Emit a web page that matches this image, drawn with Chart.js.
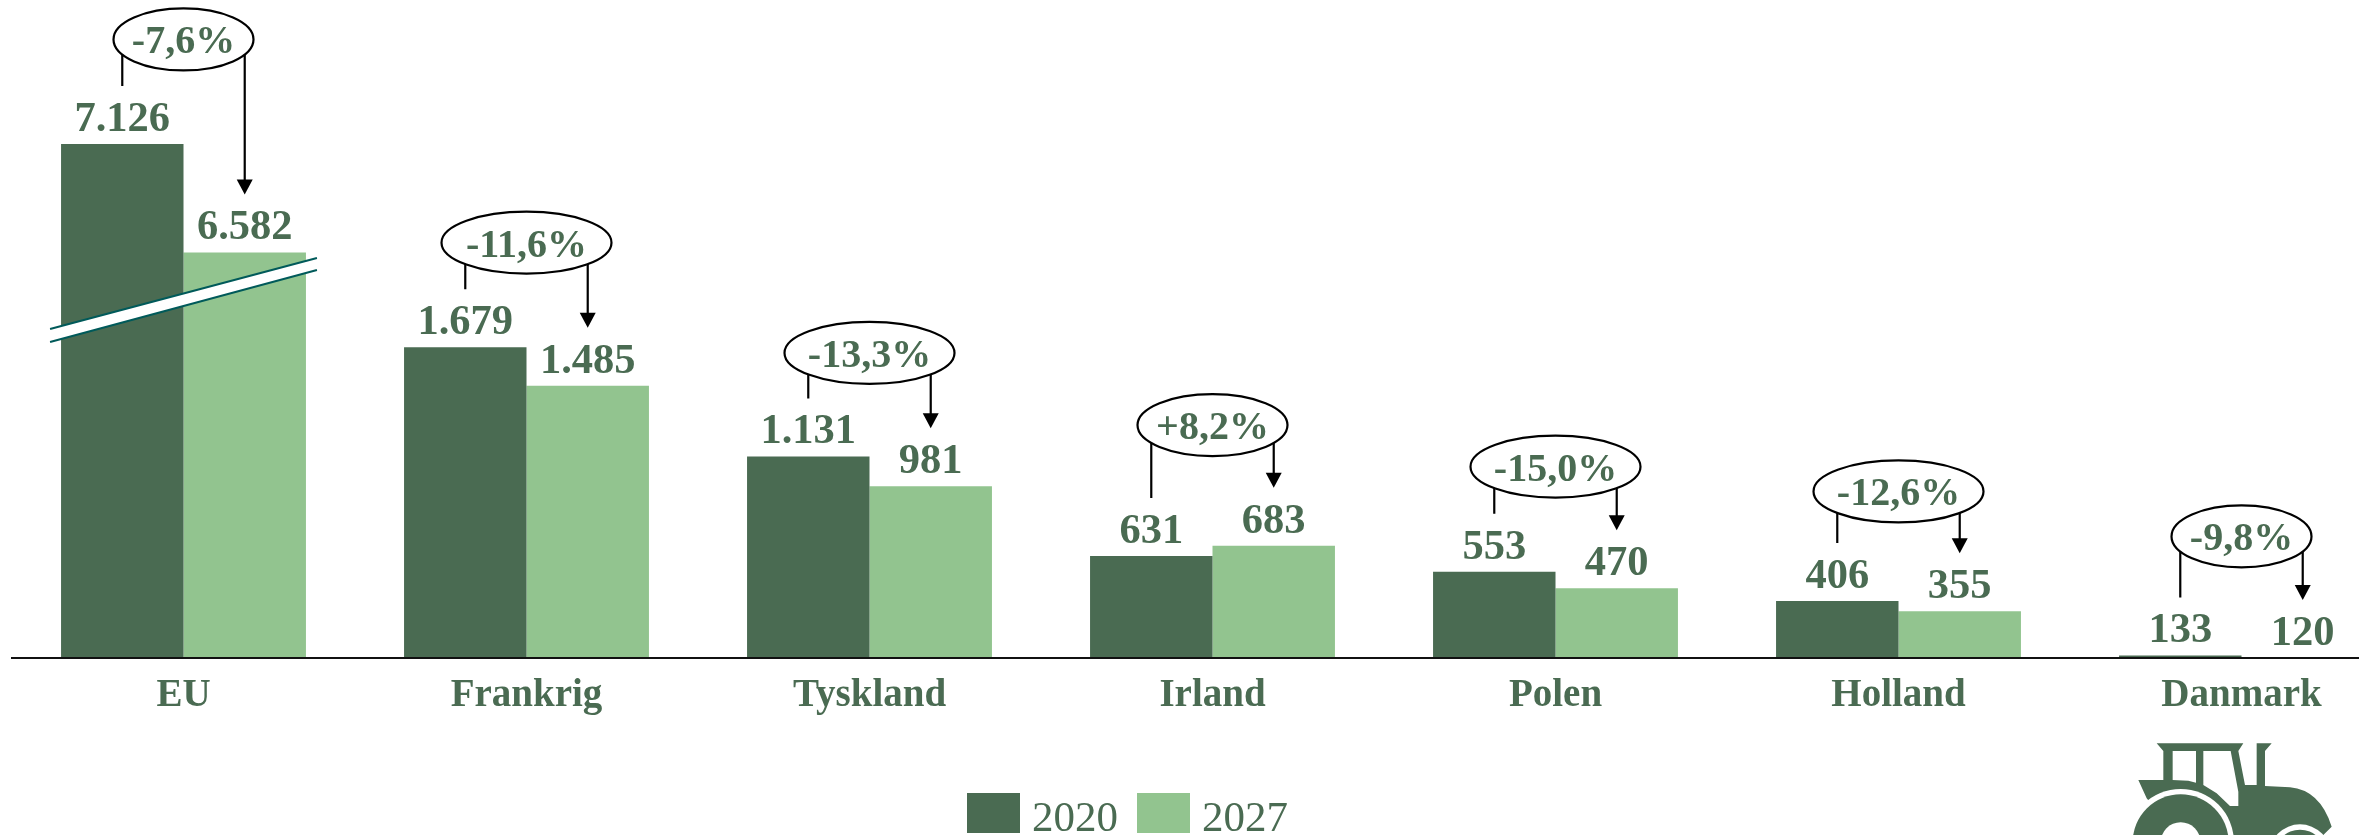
<!DOCTYPE html>
<html lang="da">
<head>
<meta charset="utf-8">
<title>Chart</title>
<script src="https://cdn.jsdelivr.net/npm/chart.js@4/dist/chart.umd.js"></script>
<style>
html,body{margin:0;padding:0;background:#fff;overflow:hidden;width:2359px;height:835px}
#wrap{position:relative;width:2359px;height:835px;overflow:hidden}
canvas{display:block}
</style>
</head>
<body>
<div id="wrap"><canvas id="c" width="2416" height="835"></canvas></div>
<script>
const categories = ['EU','Frankrig','Tyskland','Irland','Polen','Holland','Danmark'];
const values2020 = [7126,1679,1131,631,553,406,133];
const values2027 = [6582,1485,981,683,470,355,120];
const changes = ['-7,6%','-11,6%','-13,3%','+8,2%','-15,0%','-12,6%','-9,8%'];
const seriesNames = ['2020','2027'];

// broken axis: values above breakAt have breakCut units removed
const breakAt = 3000, breakCut = 4428;
const axisMin = 120, axisMax = 3420;

// callout styling
const calloutLift = [104.5,104.5,103.5,131,105,109.5,119];
const calloutRx = [70,85,85,75,85,85,70];
const calloutRy = 31;

const DARK='#4a6b52', LIGHT='#92c48f', TEXT='#4a6b52', FONT='"Liberation Serif"';

class BrokenLinearScale extends Chart.LinearScale {
  getPixelForValue(v){ return super.getPixelForValue(v > breakAt ? v - breakCut : v); }
}
BrokenLinearScale.id = 'brokenLinear';
BrokenLinearScale.defaults = Chart.LinearScale.defaults;
Chart.register(BrokenLinearScale);

const fmt = v => String(v).replace(/\B(?=(\d{3})+$)/g,'.');

function drawTractor(ctx){
  ctx.save();
  ctx.translate(2110,735); ctx.scale(1/3,1/3);
  ctx.fillStyle=DARK;
  ctx.beginPath();
  ctx.moveTo(85,135);ctx.lineTo(160,135);ctx.lineTo(160,48);ctx.lineTo(140,25);ctx.lineTo(400,25);
  ctx.lineTo(385,48);ctx.lineTo(405,150);ctx.lineTo(440,150);ctx.lineTo(440,25);ctx.lineTo(485,25);
  ctx.lineTo(465,48);ctx.lineTo(465,153);ctx.lineTo(540,157);
  ctx.quadraticCurveTo(630,165,665,275);ctx.lineTo(640,300);ctx.lineTo(200,300);ctx.lineTo(110,190);
  ctx.closePath();ctx.fill();
  ctx.fillStyle='#fff';
  ctx.beginPath();
  ctx.moveTo(188,48);ctx.lineTo(258,48);ctx.lineTo(258,143);ctx.lineTo(235,137);ctx.lineTo(188,135);ctx.closePath();
  ctx.moveTo(280,48);ctx.lineTo(362,48);ctx.lineTo(385,170);ctx.lineTo(385,213);ctx.lineTo(360,213);ctx.lineTo(320,175);ctx.lineTo(280,150);ctx.closePath();
  ctx.fill();
  const disc=(x,y,r,c)=>{ctx.fillStyle=c;ctx.beginPath();ctx.arc(x,y,r,0,Math.PI*2);ctx.fill();};
  disc(212,322,160,'#fff');disc(212,322,144,DARK);disc(212,322,60,'#fff');
  disc(570,360,92,'#fff');disc(570,360,76,DARK);disc(570,360,30,'#fff');
  ctx.restore();
}

const annotations = {
  id:'annotations',
  afterDatasetsDraw(chart){
    const ctx=chart.ctx, m0=chart.getDatasetMeta(0).data, m1=chart.getDatasetMeta(1).data;
    const xs=chart.scales.x;
    ctx.save();
    // axis break on the EU bars
    const a=m0[0], b=m1[0];
    const bx0=a.x-a.width/2-11, bx1=b.x+b.width/2+11;
    const yU0=329,yU1=258,yL0=342,yL1=270;
    ctx.fillStyle='#fff';
    ctx.beginPath();ctx.moveTo(bx0,yU0);ctx.lineTo(bx1,yU1);ctx.lineTo(bx1,yL1);ctx.lineTo(bx0,yL0);ctx.closePath();ctx.fill();
    ctx.strokeStyle='#005a5a';ctx.lineWidth=2;
    ctx.beginPath();ctx.moveTo(bx0,yU0);ctx.lineTo(bx1,yU1);ctx.moveTo(bx0,yL0);ctx.lineTo(bx1,yL1);ctx.stroke();

    // value labels
    ctx.textAlign='center';ctx.textBaseline='alphabetic';ctx.fillStyle=TEXT;
    ctx.font='bold 42.5px '+FONT;
    [[m0,values2020],[m1,values2027]].forEach(([m,vals])=>m.forEach((el,i)=>{
      ctx.fillText(fmt(vals[i]),el.x,el.y-13);
    }));

    // callouts
    categories.forEach((_,i)=>{
      const l=m0[i], r=m1[i], cx=xs.getPixelForValue(i), cy=l.y-calloutLift[i];
      ctx.strokeStyle='#000';ctx.fillStyle='#000';ctx.lineWidth=2.2;
      ctx.beginPath();ctx.moveTo(l.x,cy);ctx.lineTo(l.x,l.y-58);
      ctx.moveTo(r.x,cy);ctx.lineTo(r.x,r.y-70);ctx.stroke();
      ctx.beginPath();ctx.moveTo(r.x-8,r.y-73);ctx.lineTo(r.x+8,r.y-73);ctx.lineTo(r.x,r.y-58);ctx.closePath();ctx.fill();
      ctx.fillStyle='#fff';
      ctx.beginPath();ctx.ellipse(cx,cy,calloutRx[i],calloutRy,0,0,Math.PI*2);ctx.fill();ctx.stroke();
      ctx.fillStyle=TEXT;ctx.font='bold 40px '+FONT;
      ctx.fillText(changes[i],cx,cy+14);
    });

    // legend
    const swatches=[[967,DARK],[1137,LIGHT]];
    swatches.forEach(([x,c],i)=>{
      ctx.fillStyle=c;ctx.fillRect(x,793,53,40);
      ctx.fillStyle=TEXT;ctx.font='43px '+FONT;ctx.textAlign='left';
      ctx.fillText(seriesNames[i],x+65,831);
    });
    drawTractor(ctx);
    ctx.restore();
  }
};

new Chart(document.getElementById('c'),{
  type:'bar',
  data:{labels:categories,datasets:[
    {label:seriesNames[0],data:values2020,backgroundColor:DARK,borderWidth:0},
    {label:seriesNames[1],data:values2027,backgroundColor:LIGHT,borderWidth:0}
  ]},
  options:{
    responsive:false,animation:false,
    layout:{padding:{left:12,right:3,top:0,bottom:0}},
    categoryPercentage:0.714,barPercentage:1,
    plugins:{legend:{display:false},tooltip:{enabled:false},title:{display:false}},
    scales:{
      x:{
        grid:{display:false,drawTicks:false},
        border:{display:true,color:'#111',width:2,z:2},
        ticks:{color:TEXT,font:{family:FONT,size:39,weight:'bold'},padding:15,maxRotation:0,autoSkip:false},
        afterFit(s){s.height=177;}
      },
      y:{type:'brokenLinear',display:false,min:axisMin,max:axisMax,grid:{display:false}}
    }
  },
  plugins:[annotations]
});
</script>
</body>
</html>
